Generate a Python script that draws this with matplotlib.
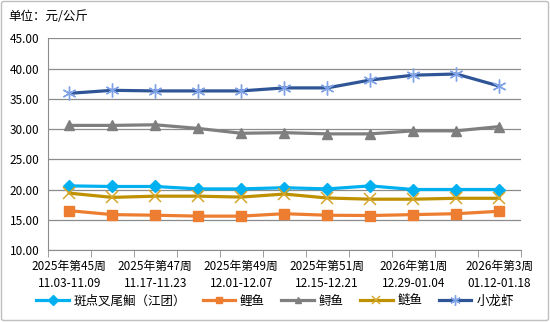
import matplotlib
matplotlib.use("Agg")
import matplotlib.pyplot as plt
from matplotlib.patches import FancyBboxPatch

plt.rcParams['font.family'] = ['Noto Sans CJK SC', 'DejaVu Sans']

weeks = ["2025年第45周\n11.03-11.09", "2025年第46周\n11.10-11.16", "2025年第47周\n11.17-11.23",
         "2025年第48周\n11.24-11.30", "2025年第49周\n12.01-12.07", "2025年第50周\n12.08-12.14",
         "2025年第51周\n12.15-12.21", "2025年第52周\n12.22-12.28", "2026年第1周\n12.29-01.04",
         "2026年第2周\n01.05-01.11", "2026年第3周\n01.12-01.18"]

catfish = [20.6, 20.5, 20.5, 20.1, 20.1, 20.3, 20.1, 20.6, 20.0, 20.0, 20.0]
carp = [16.5, 15.85, 15.75, 15.6, 15.6, 16.0, 15.75, 15.7, 15.85, 16.0, 16.4]
sturgeon = [30.6, 30.6, 30.7, 30.1, 29.3, 29.4, 29.2, 29.2, 29.7, 29.7, 30.4]
silver_carp = [19.4, 18.7, 18.9, 18.9, 18.75, 19.25, 18.6, 18.4, 18.4, 18.55, 18.55]
crayfish = [35.9, 36.4, 36.3, 36.3, 36.3, 36.8, 36.8, 38.1, 38.9, 39.1, 37.1]

names = ["斑点叉尾鮰（江团）", "鲤鱼", "鲟鱼", "鲢鱼", "小龙虾"]
series = [catfish, carp, sturgeon, silver_carp, crayfish]
line_colors = ["#00B0F0", "#ED7D31", "#7F7F7F", "#BF9000", "#2F5597"]
marker_colors = ["#00B0F0", "#ED7D31", "#7F7F7F", "#D4A72C", "#7FA3E6"]
markers = ["D", "s", "^", "x", "*"]

fig = plt.figure(figsize=(5.5, 3.22), dpi=100)
ax = fig.add_axes([47.7 / 550, 1 - 250 / 322, 473 / 550, 211.7 / 322])

x = list(range(len(weeks)))
for vals, name, lc, mc, mk in zip(series, names, line_colors, marker_colors, markers):
    if mk == "x":
        ax.plot(x, vals, color=lc, lw=2.3, marker="x", ms=8, mec=mc, mew=1.1, label=name)
    elif mk == "*":
        ax.plot(x, vals, color=lc, lw=2.3, marker=(6, 2, 0), ms=10, mec=mc, mew=1.0, label=name)
    else:
        ax.plot(x, vals, color=lc, lw=2.3, marker=mk, ms=6.5, mfc=mc, mec=mc, label=name)

ax.set_xlim(-0.5, len(weeks) - 0.5)
ax.set_ylim(10, 45)
ax.set_yticks([10, 15, 20, 25, 30, 35, 40, 45])
ax.set_yticklabels([f"{v:.2f}" for v in [10, 15, 20, 25, 30, 35, 40, 45]], fontsize=8.5)
ax.yaxis.grid(True, color="#8C8C8C", lw=0.9)
ax.set_axisbelow(True)
ax.tick_params(axis="y", length=0, pad=6)

ax.set_xticks([i for i in x if i % 2 == 0])
ax.set_xticklabels([weeks[i] for i in x if i % 2 == 0], fontsize=8.5, linespacing=1.4)
ax.set_xticks([i - 0.5 for i in range(len(weeks) + 1)], minor=True)
ax.tick_params(axis="x", which="major", length=0, pad=7)
ax.tick_params(axis="x", which="minor", length=5, color="#8C8C8C")

for s in ["top", "right"]:
    ax.spines[s].set_visible(False)
for s in ["left", "bottom"]:
    ax.spines[s].set_color("#8C8C8C")

fig.text(8 / 550, 1 - 17 / 322, "单位：元/公斤", fontsize=9, va="center", ha="left")

fig.legend(loc="center", bbox_to_anchor=(0.5, 1 - 301 / 322), ncol=5, frameon=False,
           fontsize=9, handlelength=2.6, columnspacing=1.3, handletextpad=0.4, markerscale=0.75)

border = FancyBboxPatch((1.5 / 550, 1.5 / 322), 547 / 550, 319 / 322, boxstyle="round,pad=0,rounding_size=0.005",
                        transform=fig.transFigure, fill=False, ec="#BFBFBF", lw=1)
fig.patches.append(border)

fig.savefig("out.png", dpi=100)
